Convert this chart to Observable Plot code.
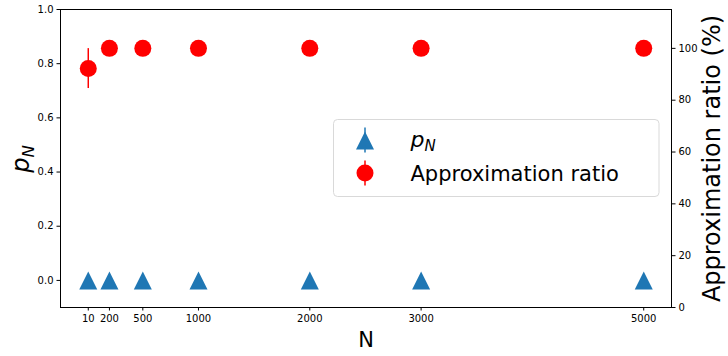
<!DOCTYPE html>
<html><head><meta charset="utf-8">
<script src="https://cdn.jsdelivr.net/npm/d3@7"></script>
<script src="https://cdn.jsdelivr.net/npm/@observablehq/plot@0.6"></script>
<style>
html,body{margin:0;padding:0;background:#fff;}
svg{font-family:"DejaVu Sans",sans-serif;}
</style>
</head><body><div id="chart"></div>
<script>
// ---- data ----
const N = [10, 200, 500, 1000, 2000, 3000, 5000];
const pN = [0, 0, 0, 0, 0, 0, 0];
const approxRatio = [92.2, 100, 100, 100, 100, 100, 100];
const approxErr = [7.7, 0, 0, 0, 0, 0, 0];
const xTicks = [10, 200, 500, 1000, 2000, 3000, 5000];
const leftTicks = [0, 0.2, 0.4, 0.6, 0.8, 1.0];
const rightTicks = [0, 20, 40, 60, 80, 100];
const xDomain = [-239.5, 5249.5];
const leftDomain = [-0.1, 1.0];
const rightDomain = [0, 115];
const blue = "#1f77b4";
const red = "#ff0000";

// map right-axis values into the left-axis scale
const toLeft = v => leftDomain[0] + (v - rightDomain[0]) / (rightDomain[1] - rightDomain[0]) * (leftDomain[1] - leftDomain[0]);
const fromLeft = v => rightDomain[0] + (v - leftDomain[0]) / (leftDomain[1] - leftDomain[0]) * (rightDomain[1] - rightDomain[0]);

const rows = N.map((n, i) => ({N: n, p: pN[i], r: approxRatio[i], e: approxErr[i]}));

// matplotlib-like "^" marker (width == height)
const tri = {draw(ctx, size) {
  const r = Math.sqrt(size / Math.PI);
  ctx.moveTo(0, -r); ctx.lineTo(r, r); ctx.lineTo(-r, r); ctx.closePath();
}};

const W = 728, H = 356, mL = 60, mR = 57, mT = 9, mB = 49;

const chart = Plot.plot({
  width: W, height: H,
  marginLeft: mL, marginRight: mR, marginTop: mT, marginBottom: mB,
  style: {fontFamily: "DejaVu Sans", fontSize: "10px", background: "#fff", color: "#000", overflow: "visible"},
  x: {domain: xDomain},
  y: {domain: leftDomain},
  marks: [
    Plot.axisX({ticks: xTicks, tickFormat: d => String(d), tickSize: 3.5, tickPadding: 3.5, label: null, stroke: "#000"}),
    Plot.axisY({ticks: leftTicks, tickFormat: d3.format(".1f"), anchor: "left", tickSize: 3.5, tickPadding: 3.5, label: null}),
    Plot.axisY({ticks: rightTicks.map(toLeft), tickFormat: d => String(Math.round(fromLeft(d))), anchor: "right", tickSize: 3.5, tickPadding: 3.5, label: null}),
    Plot.dot(rows, {x: "N", y: "p", symbol: tri, r: 9, fill: blue, stroke: "none"}),
    Plot.ruleX(rows.filter(d => d.e > 0), {x: "N", y1: d => toLeft(d.r - d.e), y2: d => toLeft(d.r + d.e), stroke: red, strokeWidth: 1.5}),
    Plot.dot(rows, {x: "N", y: d => toLeft(d.r), r: 8.5, fill: red, stroke: "none"}),
    Plot.frame({stroke: "#000", strokeWidth: 1})
  ]
});

const svg = d3.select(chart);

// axis labels
svg.append("text")
  .attr("x", 366).attr("y", 347)
  .attr("text-anchor", "middle")
  .attr("font-size", 21).attr("fill", "#000")
  .text("N");

const yl = svg.append("text")
  .attr("transform", "translate(29,159) rotate(-90)")
  .attr("text-anchor", "middle")
  .attr("font-size", 24).attr("fill", "#000")
  .attr("font-style", "italic");
yl.append("tspan").text("p");
yl.append("tspan").attr("font-size", 16.5).attr("dy", 5).text("N");

svg.append("text")
  .attr("transform", "translate(720,158.5) rotate(-90)")
  .attr("text-anchor", "middle")
  .attr("font-size", 24).attr("fill", "#000")
  .text("Approximation ratio (%)");

// legend
const lg = svg.append("g").attr("transform", "translate(333.5,119.5)").attr("text-anchor", "start");
lg.append("rect").attr("width", 325.5).attr("height", 77).attr("rx", 4)
  .attr("fill", "#fff").attr("fill-opacity", 0.8).attr("stroke", "#d9d9d9").attr("stroke-width", 1);
// row 1: p_N
lg.append("line").attr("x1", 31.5).attr("x2", 31.5).attr("y1", 8).attr("y2", 33).attr("stroke", blue).attr("stroke-width", 1.5);
lg.append("path").attr("transform", "translate(31.5,21)").attr("d", d3.symbol(tri, Math.PI * 81)()).attr("fill", blue);
const t1 = lg.append("text").attr("x", 77).attr("y", 27).attr("text-anchor", "start").attr("font-size", 22).attr("fill", "#000").attr("font-style", "italic");
t1.append("tspan").text("p");
t1.append("tspan").attr("font-size", 15).attr("dy", 4).text("N");
// row 2: approximation ratio
lg.append("line").attr("x1", 31.5).attr("x2", 31.5).attr("y1", 41).attr("y2", 66).attr("stroke", red).attr("stroke-width", 1.5);
lg.append("circle").attr("cx", 31.5).attr("cy", 53.5).attr("r", 8.5).attr("fill", red);
lg.append("text").attr("x", 77).attr("y", 61).attr("text-anchor", "start").attr("font-size", 21).attr("fill", "#000").text("Approximation ratio");

document.getElementById("chart").appendChild(chart);
</script>
</body></html>
